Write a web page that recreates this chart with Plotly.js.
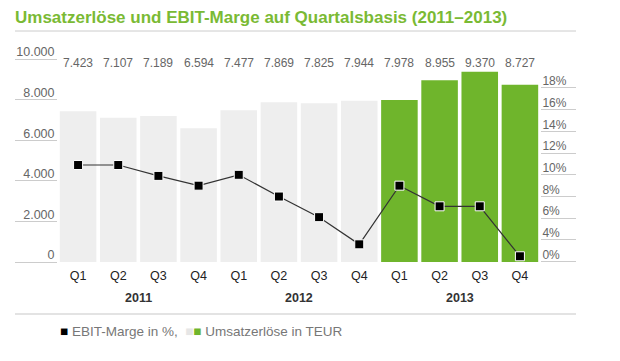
<!DOCTYPE html>
<html>
<head>
<meta charset="utf-8">
<script src="https://cdn.plot.ly/plotly-3.0.1.min.js"></script>
<style>
  html, body { margin: 0; padding: 0; background: #ffffff; }
  #chart { width: 620px; height: 361px; }
</style>
</head>
<body>
<div id="chart"></div>
<script>
// ---- data ----
var quarters = ['Q1','Q2','Q3','Q4','Q1','Q2','Q3','Q4','Q1','Q2','Q3','Q4'];
var years    = ['2011','2011','2011','2011','2012','2012','2012','2012','2013','2013','2013','2013'];
var umsatz   = [7423, 7107, 7189, 6594, 7477, 7869, 7825, 7944, 7978, 8955, 9370, 8727];
var ebit     = [10.9, 10.9, 9.9, 9.0, 10.0, 8.0, 6.1, 3.6, 9.0, 7.1, 7.1, 2.5];
var yearLabels = ['2011', '2012', '2013'];
var leftTicks  = [0, 2000, 4000, 6000, 8000, 10000];
var leftText   = ['0', '2.000', '4.000', '6.000', '8.000', '10.000'];
var rightTicks = [2, 4, 6, 8, 10, 12, 14, 16, 18];
var rightText  = ['0%', '4%', '6%', '8%', '10%', '12%', '14%', '16%', '18%'];

var GREEN = '#6fb52c';
var GREY  = '#eeeeee';
var FONT  = 'Liberation Sans, Arial, sans-serif';

var periods = quarters.map(function (q, i) { return q + ' ' + years[i]; });
var barColors = years.map(function (y) { return y === '2013' ? GREEN : GREY; });
function fmt(v) { return String(v).replace(/\B(?=(\d{3})+(?!\d))/g, '.'); }

var W = 620, H = 361;
var M = {l: 58, r: 80, t: 59, b: 99, pad: 0};
var pw = W - M.l - M.r, ph = H - M.t - M.b;
function px2x(p) { return (p - M.l) / pw; }
function px2y(p) { return (H - M.b - p) / ph; }

var traces = [
  {
    type: 'bar', x: periods, y: umsatz, marker: {color: barColors},
    hoverinfo: 'skip', showlegend: false
  },
  {
    type: 'scatter', mode: 'lines+markers', x: periods, y: ebit, yaxis: 'y2',
    line: {color: '#333333', width: 1.2},
    marker: {symbol: 'square', size: 9, color: '#000000', line: {color: '#ffffff', width: 1}},
    hoverinfo: 'skip', showlegend: false
  }
];

var annotations = [];
// value labels above the bars
periods.forEach(function (p, i) {
  annotations.push({
    x: p, xref: 'x', y: px2y(63), yref: 'paper', text: fmt(umsatz[i]),
    showarrow: false, xanchor: 'center', yanchor: 'middle',
    font: {family: FONT, size: 12, color: '#666666'}
  });
});
// year labels, centred under their quarters
yearLabels.forEach(function (y) {
  var idx = [];
  years.forEach(function (yy, i) { if (yy === y) idx.push(i); });
  var mid = (idx[0] + idx[idx.length - 1]) / 2;
  annotations.push({
    x: mid, xref: 'x', y: px2y(298), yref: 'paper', text: '<b>' + y + '</b>',
    showarrow: false, xanchor: 'center', yanchor: 'middle',
    font: {family: FONT, size: 12.5, color: '#333333'}
  });
});
// legend
annotations.push({
  x: px2x(58), xref: 'paper', y: px2y(331.5), yref: 'paper', xanchor: 'left', yanchor: 'middle',
  showarrow: false,
  text: '<span style="color:#000000">■</span> EBIT-Marge in %,  <span style="color:#e6e6e6">■</span><span style="color:' + GREEN + '">■</span> Umsatzerlöse in TEUR',
  font: {family: FONT, size: 13.5, color: '#777777'}
});

var shapes = [
  {type: 'line', xref: 'paper', yref: 'paper', x0: px2x(15), x1: px2x(576), y0: px2y(31), y1: px2y(31),
   line: {color: '#cccccc', width: 1}},
  {type: 'line', xref: 'paper', yref: 'paper', x0: px2x(15), x1: px2x(576), y0: px2y(314), y1: px2y(314),
   line: {color: '#e3e3e3', width: 2}}
];

var layout = {
  width: W, height: H,
  margin: M,
  paper_bgcolor: '#ffffff', plot_bgcolor: 'rgba(0,0,0,0)',
  title: {
    text: '<b>Umsatzerlöse und EBIT-Marge auf Quartalsbasis (2011–2013)</b>',
    x: 15 / W, xref: 'container', xanchor: 'left',
    y: 1 - 17 / H, yref: 'container', yanchor: 'middle', automargin: false,
    font: {family: FONT, size: 17, color: '#7aba34'}
  },
  bargap: 0.09,
  xaxis: {
    type: 'category', tickvals: periods, ticktext: quarters, automargin: false,
    range: [-0.5, periods.length - 0.5],
    showgrid: false, zeroline: false, showline: false, ticks: '',
    tickfont: {family: FONT, size: 12.5, color: '#222222'},
    ticklabelstandoff: 4, fixedrange: true
  },
  yaxis: {
    range: [0, 10000], tickvals: leftTicks, ticktext: leftText, automargin: false,
    showgrid: false, zeroline: false, showline: false,
    ticks: 'outside', ticklen: 42, tickcolor: '#cccccc', tickwidth: 1,
    ticklabelstandoff: -42, ticklabelshift: -7,
    tickfont: {family: FONT, size: 12.5, color: '#666666'}, fixedrange: true
  },
  yaxis2: {
    overlaying: 'y', side: 'right', automargin: false,
    range: [2 - 0.3 / 10.9, 18 + 29 / 10.9], tickvals: rightTicks, ticktext: rightText,
    showgrid: false, zeroline: false, showline: false,
    ticks: 'outside', ticklen: 35, tickcolor: '#cccccc', tickwidth: 1,
    ticklabelstandoff: -36, ticklabelshift: -7,
    tickfont: {family: FONT, size: 12, color: '#666666'}, fixedrange: true
  },
  annotations: annotations,
  shapes: shapes,
  showlegend: false
};

Plotly.newPlot('chart', traces, layout, {displayModeBar: false, staticPlot: true});
</script>
</body>
</html>
